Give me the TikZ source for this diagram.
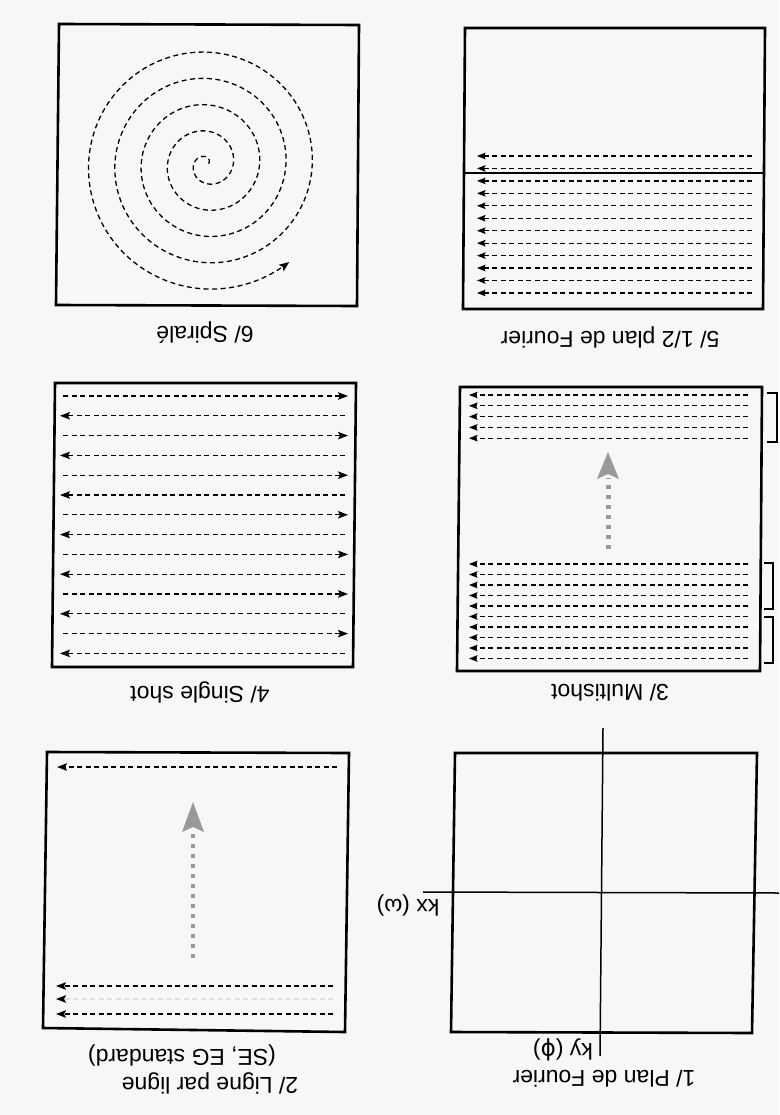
\documentclass[tikz,border=0pt]{standalone}
\usepackage{fontspec}
\setmainfont{Liberation Sans}
\newfontfamily\dejavu{DejaVu Sans}
\usetikzlibrary{arrows.meta}
\begin{document}
\begin{tikzpicture}[x=1pt,y=-1pt,
  frame/.style={line width=2.6pt, line join=miter},
  axis/.style={line width=1.5pt},
  dline/.style={dash pattern=on 5pt off 3.5pt, line width=1.3pt},
  scan/.style={dline, -{Stealth[length=10pt,width=7.5pt,inset=2pt]}},
  scansmall/.style={dline, -{Stealth[length=8.5pt,width=6.5pt,inset=1.5pt]}},
  lbl/.style={rotate=180, font=\fontsize{23}{27}\selectfont, inner sep=0pt},
  grayshaft/.style={draw=gray!80, line width=5pt, dash pattern=on 4pt off 6pt},
  grayhead/.style={fill=gray!80},
  brk/.style={line width=1.3pt}
]
\fill[gray!6] (0,0) rectangle (779,1115);
\useasboundingbox (0,0) rectangle (779,1115);

% ---------- Panel 6: spiral ----------
\draw[frame] (59,24) -- (359,25) -- (357,306) -- (56,305) -- cycle;
\draw[dline, -{Stealth[length=10pt,width=8pt,inset=2pt]}]
  plot[domain=20:1750, samples=500, smooth]
  ({207+0.0731*\x*cos(\x)}, {164-0.0731*\x*sin(\x)});
\node[lbl] (l6) at (205,333) {6/ Spiralé};

% ---------- Panel 5: half Fourier plane ----------
\draw[frame] (465,28) -- (765,28) -- (763,309) -- (463,309) -- cycle;
\coordinate (h5a) at (464,173);
\coordinate (h5b) at (765,173);
\draw[axis] (h5a) -- (h5b);
\foreach \i in {0,...,11}{
  \pgfmathsetmacro\yy{156+\i*12.45}
  \draw[scansmall] (752,\yy) -- (477,\yy);
}
\node[lbl] (l5) at (610,337) {5/ 1/2 plan de Fourier};

% ---------- Panel 4: single shot ----------
\draw[frame] (55,383) -- (356,383) -- (353,667) -- (52,667) -- cycle;
\foreach \i in {0,...,13}{
  \pgfmathsetmacro\yy{396+\i*19.8}
  \ifodd\i
    \draw[scan] (345,\yy) -- (60,\yy);
  \else
    \draw[scan] (63,\yy) -- (348,\yy);
  \fi
}
\node[lbl] (l4) at (200,692) {4/ Single shot};

% ---------- Panel 3: multishot ----------
\draw[frame] (460,387) -- (762,387) -- (760,671) -- (457,671) -- cycle;
\foreach \i in {0,...,4}{
  \pgfmathsetmacro\yy{395+\i*10.8}
  \draw[scansmall] (748,\yy) -- (469,\yy);
}
\foreach \i in {0,...,9}{
  \pgfmathsetmacro\yy{564+\i*10.5}
  \draw[scansmall] (748,\yy) -- (469,\yy);
}
\coordinate (g3a) at (608,549);
\coordinate (g3b) at (608,478);
\draw[grayshaft] (g3a) -- (g3b);
\fill[grayhead] (597,479) -- (608,452) -- (619,479) -- (608,474) -- cycle;
\draw[brk] (767,393) -- (777,393) -- (777,442) -- (767,442);
\draw[brk] (764,563) -- (773,563) -- (773,609) -- (764,609);
\draw[brk] (764,617) -- (773,617) -- (773,663) -- (764,663);
\node[lbl] (l3) at (610,693) {3/ Multishot};

% ---------- Panel 2: line by line ----------
\draw[frame] (47,752) -- (349,753) -- (345,1032) -- (43,1028) -- cycle;
\draw[scan] (337,767) -- (57,767);
\draw[scan] (333,986) -- (56,986);
\draw[dline, draw=gray!25, -{Stealth[length=10pt,width=7.5pt,inset=2pt,color=black]}] (333,999) -- (56,999);
\draw[scan] (333,1014) -- (56,1014);
\coordinate (g2a) at (193,958);
\coordinate (g2b) at (193,831);
\draw[grayshaft, line width=4pt, dash pattern=on 4pt off 6pt] (g2a) -- (g2b);
\fill[grayhead] (182,832) -- (193,802) -- (204,832) -- (193,827) -- cycle;
\node[lbl] (l2b) at (182,1055) {(SE, EG standard)};
\node[lbl] (l2a) at (210,1083) {2/ Ligne par ligne};

% ---------- Panel 1: Fourier plane ----------
\draw[frame] (455,753) -- (757,753) -- (752,1033) -- (451,1032) -- cycle;
\coordinate (ky1) at (603,728);
\coordinate (ky2) at (600,1056);
\coordinate (kx1) at (423,892);
\coordinate (kx2) at (779,893);
\draw[axis] (ky1) -- (ky2);
\draw[axis] (kx1) -- (kx2);
\node[lbl] (kx) at (408,905) {kx (ω)};
\node[lbl] (ky) at (563,1050) {ky ({\dejavu ϕ})};
\node[lbl] (l1) at (604,1079) {1/ Plan de Fourier};
\end{tikzpicture}
\end{document}
